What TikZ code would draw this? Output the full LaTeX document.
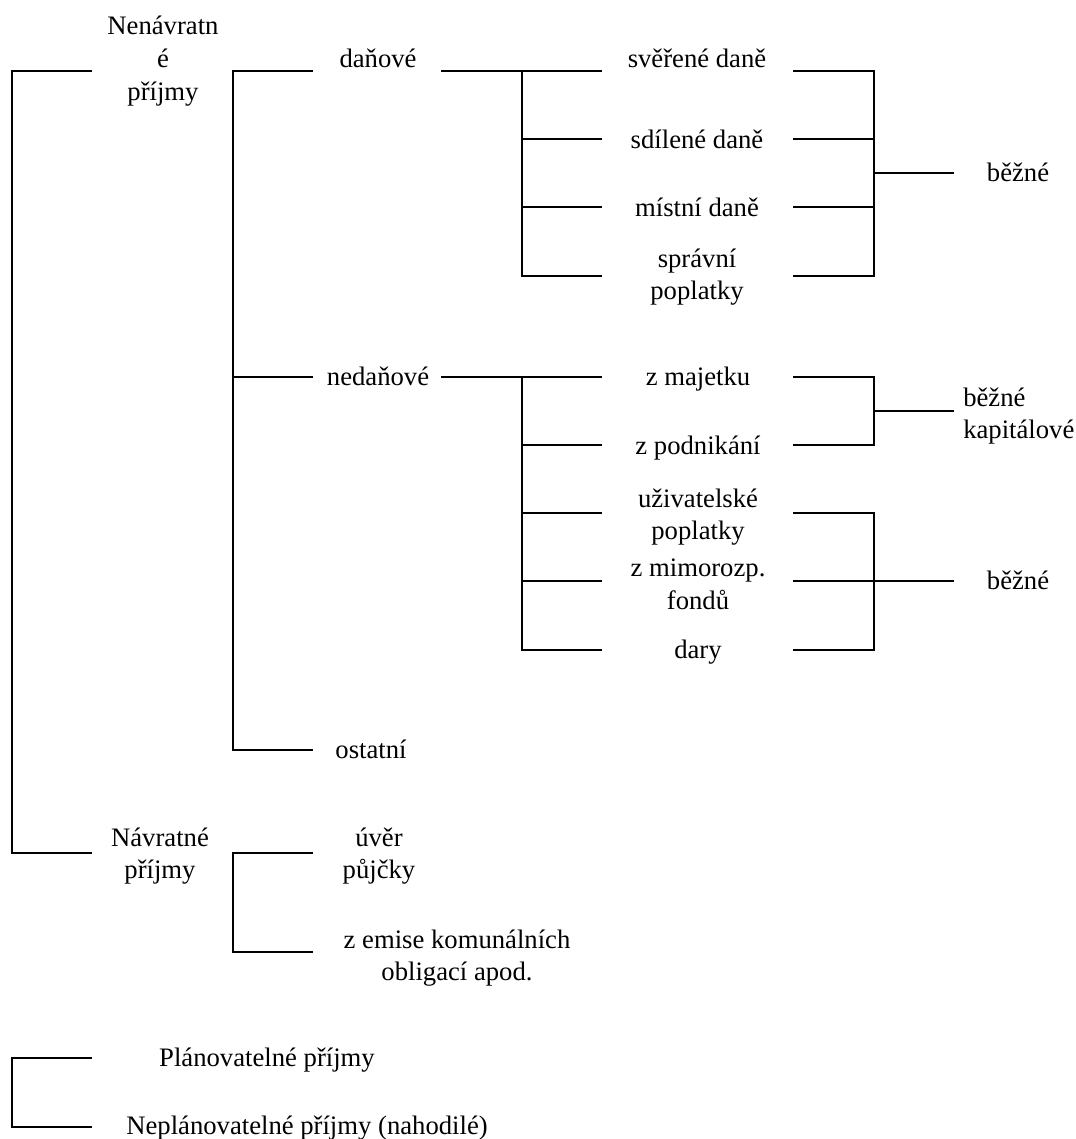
\documentclass[tikz,border=0pt]{standalone}
\usepackage{fontspec}
\setmainfont{Liberation Serif}
\begin{document}
\begin{tikzpicture}[x=0.75pt,y=-0.75pt,
  lbl/.style={inner sep=0pt, align=center, font=\fontsize{20}{24.5}\selectfont, text height=14pt, text depth=5pt},
  lblm/.style={inner sep=0pt, align=center, font=\fontsize{20}{24.5}\selectfont},
  lblw/.style={lblm, align=left},
  ln/.style={line width=1.6pt, line join=miter},
  lnthin/.style={line width=1.2pt}]
\useasboundingbox (0,0) rectangle (1075,1139);

% ---- labels ----
\node[lblm] (nenav) at (163,61) {Nenávratn\\é\\příjmy};
\node[lbl] (dan) at (378,61) {daňové};
\node[lbl] (sver) at (697,61) {svěřené daně};
\node[lbl] (sdil) at (697,142) {sdílené daně};
\node[lbl] (mist) at (697,210) {místní daně};
\node[lblm] (sprav) at (697,277) {správní\\poplatky};
\node[lbl] (bez1) at (1018,175) {běžné};
\node[lbl] (nedan) at (378,379) {nedaňové};
\node[lbl] (majet) at (698,379) {z majetku};
\node[lbl] (podn) at (698,448) {z podnikání};
\node[lblm] (uziv) at (698,517) {uživatelské\\poplatky};
\node[lblm] (mimo) at (698,584) {z mimorozp.\\fondů};
\node[lbl] (dary) at (698,652) {dary};
\node[lblw, anchor=west] (bezkap) at (963,416) {běžné\\kapitálové};
\node[lbl] (bez2) at (1018,583) {běžné};
\node[lbl] (ost) at (371,752) {ostatní};
\node[lblm] (navr) at (160,856) {Návratné\\příjmy};
\node[lblm] (uver) at (379,856) {úvěr\\půjčky};
\node[lblm] (emise) at (457,958) {z emise komunálních\\obligací apod.};
\node[lbl] (plan) at (267,1060) {Plánovatelné příjmy};
\node[lbl] (neplan) at (307,1128) {Neplánovatelné příjmy (nahodilé)};

% ---- coordinates ----
\coordinate (a1) at (92,71);
\coordinate (a2) at (92,853);
\coordinate (b1) at (313,71);
\coordinate (b2) at (313,377);
\coordinate (b3) at (313,750);
\coordinate (b4) at (313,853);
\coordinate (b5) at (313,952);
\coordinate (c0) at (441,71);
\coordinate (c1) at (602,71);
\coordinate (c2) at (602,139);
\coordinate (c3) at (602,207);
\coordinate (c4) at (602,276);
\coordinate (d0) at (441,377);
\coordinate (d1) at (602,377);
\coordinate (d2) at (602,445);
\coordinate (d3) at (602,513);
\coordinate (d4) at (602,581);
\coordinate (d5) at (602,650);
\coordinate (e1) at (793,71);
\coordinate (e2) at (793,139);
\coordinate (e3) at (793,207);
\coordinate (e4) at (793,276);
\coordinate (f1) at (793,377);
\coordinate (f2) at (793,445);
\coordinate (f3) at (793,513);
\coordinate (f4) at (793,581);
\coordinate (f5) at (793,650);
\coordinate (g1) at (954,173);
\coordinate (g2) at (954,411);
\coordinate (g3) at (954,581);
\coordinate (h1) at (92,1058);
\coordinate (h2) at (92,1127);

% ---- connectors ----
\draw[ln] (a1) -- (12,71) -- (12,853) -- (a2);
\draw[ln] (b1) -- (233,71) -- (233,750) -- (b3);
\draw[ln] (233,377) -- (b2);
\draw[ln] (b4) -- (233,853) -- (233,952) -- (b5);

\draw[ln] (c0) -- (c1);
\draw[ln] (522,71) -- (522,276) -- (c4);
\draw[ln] (522,139) -- (c2);
\draw[ln] (522,207) -- (c3);

\draw[ln] (d0) -- (d1);
\draw[ln] (522,377) -- (522,650) -- (d5);
\draw[ln] (522,445) -- (d2);
\draw[ln] (522,513) -- (d3);
\draw[ln] (522,581) -- (d4);

\draw[ln] (e1) -- (874,71) -- (874,276) -- (e4);
\draw[ln] (e2) -- (874,139);
\draw[ln] (e3) -- (874,207);
\draw[lnthin] (874,173) -- (g1);

\draw[ln] (f1) -- (874,377) -- (874,445) -- (f2);
\draw[lnthin] (874,411) -- (g2);

\draw[ln] (f3) -- (874,513) -- (874,650) -- (f5);
\draw[ln] (f4) -- (874,581);
\draw[lnthin] (874,581) -- (g3);

\draw[ln] (h1) -- (12,1058) -- (12,1127) -- (h2);
\end{tikzpicture}
\end{document}
